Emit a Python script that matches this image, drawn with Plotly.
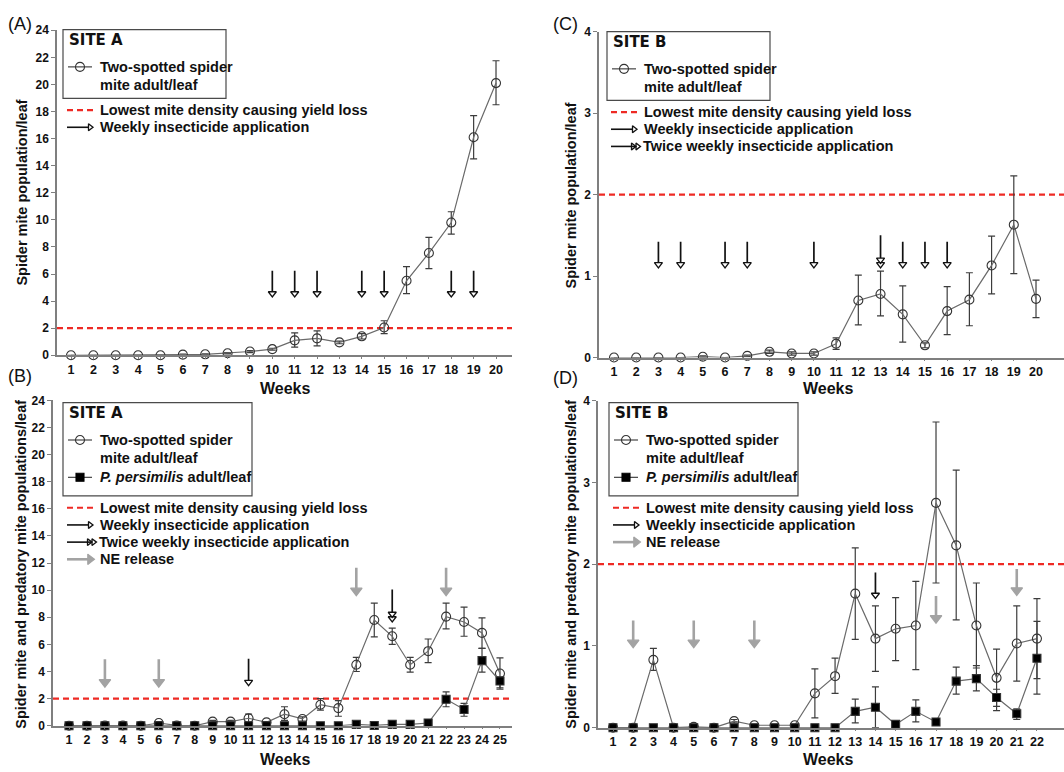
import plotly.graph_objects as go

W, H = 1064, 772

# ---------------- data ----------------
threshold = 2

# (A) Site A, insecticide only
weeks_a = list(range(1, 21))
mite_a = [0, 0, 0, 0, 0, 0.05, 0.07, 0.15, 0.28, 0.45, 1.1, 1.25, 0.95, 1.4, 2.05, 5.5, 7.55, 9.8, 16.1, 20.1]
mite_a_hi = [0, 0, 0, 0, 0, 0.08, 0.1, 0.2, 0.35, 0.52, 1.65, 1.8, 1.05, 1.6, 2.55, 6.55, 8.7, 10.6, 17.7, 21.75]
mite_a_lo = [0, 0, 0, 0, 0, 0.02, 0.04, 0.1, 0.2, 0.38, 0.6, 0.7, 0.85, 1.2, 1.6, 4.55, 6.4, 8.95, 14.5, 18.5]
weekly_a = [10, 11, 12, 14, 15, 18, 19]

# (C) Site B, insecticide only
weeks_c = list(range(1, 21))
mite_c = [0, 0, 0, 0, 0.01, 0, 0.02, 0.07, 0.05, 0.05, 0.17, 0.70, 0.78, 0.53, 0.15, 0.57, 0.71, 1.13, 1.63, 0.72]
mite_c_hi = [0, 0, 0, 0, 0.02, 0, 0.03, 0.09, 0.07, 0.07, 0.24, 1.01, 1.06, 0.88, 0.18, 0.87, 1.04, 1.49, 2.23, 0.95]
mite_c_lo = [0, 0, 0, 0, 0, 0, 0.01, 0.05, 0.03, 0.03, 0.10, 0.40, 0.51, 0.19, 0.12, 0.28, 0.39, 0.78, 1.03, 0.49]
weekly_c = [3, 4, 6, 7, 10, 14, 15, 16]
twice_c = [13]

# (B) Site A, with natural enemy release
weeks_b = list(range(1, 26))
mite_b = [0, 0, 0.02, 0.02, 0, 0.2, 0.02, 0, 0.3, 0.3, 0.55, 0.25, 0.85, 0.5, 1.55, 1.3, 4.5, 7.8, 6.6, 4.5, 5.5, 8.05, 7.65, 6.85, 3.85]
mite_b_hi = [0, 0, 0.05, 0.05, 0, 0.3, 0.05, 0, 0.4, 0.4, 0.85, 0.3, 1.4, 0.65, 2.0, 1.85, 5.05, 9.05, 7.2, 5.05, 6.4, 9.05, 8.75, 7.95, 5.0]
mite_b_lo = [0, 0, 0, 0, 0, 0.1, 0, 0, 0.2, 0.2, 0.25, 0.2, 0.4, 0.35, 1.15, 0.7, 4.0, 6.55, 6.0, 3.95, 4.65, 7.15, 6.6, 5.7, 2.7]
pred_b = [0] * 16 + [0.1, 0.02, 0.1, 0.1, 0.2, 1.95, 1.2, 4.8, 3.3]
pred_b_hi = [0] * 16 + [0.15, 0.05, 0.15, 0.15, 0.25, 2.5, 1.65, 5.7, 3.6]
pred_b_lo = [0] * 16 + [0.05, 0, 0.05, 0.05, 0.15, 1.4, 0.7, 3.95, 2.8]
weekly_b = [11]
twice_b = [19]
ne_b_low = [3, 6]
ne_b_high = [17, 22]

# (D) Site B, with natural enemy release
weeks_d = list(range(1, 23))
mite_d = [0, 0, 0.83, 0, 0.01, 0, 0.08, 0.03, 0.03, 0.03, 0.42, 0.63, 1.64, 1.09, 1.21, 1.25, 2.75, 2.23, 1.25, 0.61, 1.03, 1.09]
mite_d_hi = [0, 0, 0.97, 0, 0.01, 0, 0.1, 0.04, 0.04, 0.04, 0.72, 0.85, 2.2, 1.49, 1.59, 1.79, 3.74, 3.15, 1.77, 0.96, 1.49, 1.58]
mite_d_lo = [0, 0, 0.7, 0, 0.01, 0, 0.06, 0.02, 0.02, 0.02, 0.12, 0.42, 1.08, 0.69, 0.82, 0.71, 1.77, 1.32, 0.73, 0.26, 0.57, 0.6]
pred_d = [0] * 12 + [0.2, 0.25, 0.04, 0.2, 0.07, 0.57, 0.6, 0.37, 0.17, 0.85]
pred_d_hi = [0] * 12 + [0.35, 0.5, 0.05, 0.34, 0.08, 0.74, 0.76, 0.47, 0.23, 1.3]
pred_d_lo = [0] * 12 + [0.06, 0.0, 0.03, 0.07, 0.06, 0.41, 0.45, 0.21, 0.1, 0.41]
weekly_d = [14]
ne_d_a = [2, 5, 8]
ne_d_b = [17]
ne_d_c = [21]

# arrow extents (value at top of shaft, value at arrow tip)
arrow_a = (6.25, 4.3)
arrow_c = (1.42, 1.10)
arrow_c2 = (1.50, 1.10)
arrow_b_ne_low = (4.9, 2.85)
arrow_b_ne_high = (11.65, 9.6)
arrow_b_weekly = (4.95, 2.95)
arrow_b_twice = (10.05, 7.65)
arrow_d_ne_a = (1.31, 0.98)
arrow_d_ne_b = (1.61, 1.28)
arrow_d_ne_c = (1.94, 1.62)
arrow_d_weekly = (1.90, 1.58)

# ---------------- style ----------------
FONT = "Liberation Sans, Arial, sans-serif"
SITE_FONT = "DejaVu Sans, Liberation Sans, sans-serif"
TXT = "#111111"
AXC = "#7f7f7f"
LINEC = "#6a6a6a"
ERRC = "#3c3c3c"
RED = "#ee2a24"
GRAY_ARROW = "#a3a3a3"

panels = {
    "A": dict(xa="x", ya="y", px=(57, 512), py=(23.7, 354.7), xr=(0.374, 20.715), yr=(0, 24), dt=2, n=20),
    "C": dict(xa="x2", ya="y2", px=(599, 1064), py=(25, 357), xr=(0.325, 21.26), yr=(0, 4), dt=1, n=20),
    "B": dict(xa="x3", ya="y3", px=(53, 512), py=(400.7, 732), xr=(0.109, 25.67), yr=(0, 24), dt=2, n=25),
    "D": dict(xa="x4", ya="y4", px=(598, 1064), py=(401, 734), xr=(0.257, 23.34), yr=(0, 4), dt=1, n=22),
}

fig = go.Figure()


def upp(p):
    # data units per pixel on the y axis of panel p
    return (p["yr"][1] - p["yr"][0]) / (p["py"][1] - p["py"][0])


def series(p, x, y, hi, lo, symbol, size, fill, linecolor):
    fig.add_trace(go.Scatter(
        x=x, y=y, xaxis=p["xa"], yaxis=p["ya"], mode="lines+markers",
        line=dict(color=linecolor, width=1.2),
        marker=dict(symbol=symbol, size=size, color=fill, line=dict(color="#333333", width=1.1)),
        error_y=dict(type="data", symmetric=False,
                     array=[h - v for h, v in zip(hi, y)],
                     arrayminus=[v - l for v, l in zip(y, lo)],
                     color=ERRC, thickness=1.2, width=3.5),
        cliponaxis=False, showlegend=False, hoverinfo="x+y"))


def arrows(p, weeks, ext, kind):
    top, tip = ext
    u = upp(p)
    xs, ys = [], []
    if kind == "ne":
        base = tip + 7 * u
        heads = [tip + 5 * u]
        sym, size, col, lw = "triangle-down", 10, GRAY_ARROW, 2.6
    elif kind == "weekly":
        base = tip + 5.5 * u
        heads = [tip + 3.6 * u]
        sym, size, col, lw = "triangle-down-open", 7, "#111111", 1.7
    else:
        base = tip + 10 * u
        heads = [tip + 3.6 * u, tip + 8.2 * u]
        sym, size, col, lw = "triangle-down-open", 7, "#111111", 1.7
    for w in weeks:
        xs += [w, w, None]
        ys += [top, base, None]
    fig.add_trace(go.Scatter(x=xs, y=ys, xaxis=p["xa"], yaxis=p["ya"], mode="lines",
                             line=dict(color=col, width=lw), showlegend=False, hoverinfo="skip",
                             cliponaxis=False))
    hx, hy = [], []
    for w in weeks:
        for h in heads:
            hx.append(w)
            hy.append(h)
    fig.add_trace(go.Scatter(x=hx, y=hy, xaxis=p["xa"], yaxis=p["ya"], mode="markers",
                             marker=dict(symbol=sym, size=size, color=col, line=dict(color=col, width=1.3)),
                             showlegend=False, hoverinfo="skip", cliponaxis=False))


# threshold lines (shapes, behind data)
for key, p in panels.items():
    xd = p["xa"] + " domain"
    fig.add_shape(type="line", xref=xd, yref=p["ya"], x0=0, x1=1, y0=threshold, y1=threshold,
                  line=dict(color=RED, width=2.2, dash="6px,4px"), layer="below")

# panel A
pA = panels["A"]
series(pA, weeks_a, mite_a, mite_a_hi, mite_a_lo, "circle-open", 9, "#333333", LINEC)
arrows(pA, weekly_a, arrow_a, "weekly")

# panel C
pC = panels["C"]
series(pC, weeks_c, mite_c, mite_c_hi, mite_c_lo, "circle-open", 9, "#333333", LINEC)
arrows(pC, weekly_c, arrow_c, "weekly")
arrows(pC, twice_c, arrow_c2, "twice")

# panel B
pB = panels["B"]
series(pB, weeks_b, mite_b, mite_b_hi, mite_b_lo, "circle-open", 9, "#333333", LINEC)
series(pB, weeks_b, pred_b, pred_b_hi, pred_b_lo, "square", 8, "#000000", LINEC)
arrows(pB, ne_b_low, arrow_b_ne_low, "ne")
arrows(pB, ne_b_high, arrow_b_ne_high, "ne")
arrows(pB, weekly_b, arrow_b_weekly, "weekly")
arrows(pB, twice_b, arrow_b_twice, "twice")

# panel D
pD = panels["D"]
series(pD, weeks_d, mite_d, mite_d_hi, mite_d_lo, "circle-open", 9, "#333333", LINEC)
series(pD, weeks_d, pred_d, pred_d_hi, pred_d_lo, "square", 8, "#000000", LINEC)
arrows(pD, ne_d_a, arrow_d_ne_a, "ne")
arrows(pD, ne_d_b, arrow_d_ne_b, "ne")
arrows(pD, ne_d_c, arrow_d_ne_c, "ne")
arrows(pD, weekly_d, arrow_d_weekly, "weekly")

# ---------------- axes ----------------
layout_axes = {}
for key, p in panels.items():
    xn = "xaxis" + p["xa"][1:]
    yn = "yaxis" + p["ya"][1:]
    layout_axes[xn] = dict(
        domain=[p["px"][0] / W, p["px"][1] / W], range=list(p["xr"]), anchor=p["ya"],
        tickmode="array", tickvals=list(range(1, p["n"] + 1)),
        ticktext=[str(i) for i in range(1, p["n"] + 1)], tickangle=0,
        showline=True, linecolor=AXC, linewidth=1.5, ticks="outside", ticklen=2, tickcolor=AXC,
        tickfont=dict(family=FONT, size=12.5, color=TXT, weight="bold"), showgrid=False, zeroline=False,
        fixedrange=True)
    layout_axes[yn] = dict(
        domain=[1 - p["py"][1] / H, 1 - p["py"][0] / H], range=list(p["yr"]), anchor=p["xa"],
        tickmode="linear", tick0=0, dtick=p["dt"],
        showline=True, linecolor=AXC, linewidth=1.5, ticks="outside", ticklen=4, tickcolor=AXC,
        tickfont=dict(family=FONT, size=12, color=TXT, weight="bold"), showgrid=False, zeroline=False,
        fixedrange=True)

# overlay pixel-space axes for legend boxes and labels
layout_axes["xaxis5"] = dict(domain=[0, 1], range=[0, W], visible=False, anchor="y5", fixedrange=True)
layout_axes["yaxis5"] = dict(domain=[0, 1], range=[H, 0], visible=False, anchor="x5", fixedrange=True)

fig.update_layout(**layout_axes)


def txt(x, y, s, size=14, bold=True, anchor="left", angle=0, family=FONT):
    fig.add_annotation(x=x, y=y, xref="x5", yref="y5", text=s, showarrow=False, xanchor=anchor,
                       yanchor="middle", textangle=angle, borderpad=0,
                       font=dict(family=family, size=size, color=TXT, weight="bold" if bold else "normal"))


def sample_line(x0, x1, y, color, width, dash="solid"):
    fig.add_trace(go.Scatter(x=[x0, x1], y=[y, y], xaxis="x5", yaxis="y5", mode="lines",
                             line=dict(color=color, width=width, dash=dash),
                             showlegend=False, hoverinfo="skip", cliponaxis=False))


def sample_marker(x, y, symbol, size, color, lw=1.1):
    fig.add_trace(go.Scatter(x=[x], y=[y], xaxis="x5", yaxis="y5", mode="markers",
                             marker=dict(symbol=symbol, size=size, color=color, line=dict(color=color, width=lw)),
                             showlegend=False, hoverinfo="skip", cliponaxis=False))


def box(x0, y0, x1, y1):
    fig.add_shape(type="rect", xref="x5", yref="y5", x0=x0, x1=x1, y0=y0, y1=y1,
                  line=dict(color="#4a4a4a", width=1.2), fillcolor="rgba(255,255,255,0)")


def legend(ox, oy, site, has_pred, rows):
    # ox: left of box; oy: top of box
    bh = 95 if has_pred else 70
    bw = 189 if has_pred else 163
    box(ox, oy, ox + bw, oy + bh)
    txt(ox + 5, oy + 11, site, size=15, family=SITE_FONT)
    lx0, lx1 = ox + 5, ox + 29
    tx = ox + 36
    sample_line(lx0, lx1, oy + 38, "#333333", 1.1)
    sample_marker((lx0 + lx1) / 2, oy + 38, "circle-open", 9, "#333333")
    txt(tx, oy + 38, "Two-spotted spider", size=14.5)
    txt(tx, oy + 56, "mite adult/leaf", size=14.5)
    if has_pred:
        sample_line(lx0, lx1, oy + 76, "#333333", 1.1)
        sample_marker((lx0 + lx1) / 2, oy + 76, "square", 8, "#000000")
        txt(tx, oy + 76, "<i>P. persimilis</i> adult/leaf", size=14.5)
    y = oy + bh + 12
    for kind, label in rows:
        ax0, ax1 = ox + 4, ox + 30
        if kind == "red":
            sample_line(ax0, ax1, y, RED, 2.2, "6px,4px")
        elif kind == "weekly":
            sample_line(ax0, ax1 - 4, y, "#111111", 1.6)
            sample_marker(ax1 - 3, y, "triangle-right-open", 6, "#111111", 1.3)
        elif kind == "twice":
            sample_line(ax0, ax1 - 2, y, "#111111", 1.6)
            sample_marker(ax1 - 4, y, "triangle-right-open", 6, "#111111", 1.3)
            sample_marker(ax1 + 0.5, y, "triangle-right-open", 6, "#111111", 1.3)
        elif kind == "ne":
            sample_line(ax0, ax1 - 5, y, GRAY_ARROW, 2.6)
            sample_marker(ax1 - 3, y, "triangle-right", 9, GRAY_ARROW)
        txt(tx if kind != "twice" else tx - 1, y, label, size=14.5)
        y += 17.5


legend(63, 23, "SITE A", False,
       [("red", "Lowest mite density causing yield loss"),
        ("weekly", "Weekly insecticide application")])
legend(607, 25, "SITE B", False,
       [("red", "Lowest mite density causing yield loss"),
        ("weekly", "Weekly insecticide application"),
        ("twice", "Twice weekly insecticide application")])
legend(63, 403, "SITE A", True,
       [("red", "Lowest mite density causing yield loss"),
        ("weekly", "Weekly insecticide application"),
        ("twice", "Twice weekly insecticide application"),
        ("ne", "NE release")])
legend(609, 403, "SITE B", True,
       [("red", "Lowest mite density causing yield loss"),
        ("weekly", "Weekly insecticide application"),
        ("ne", "NE release")])

# axis titles and panel letters
txt(22, 189, "Spider mite population/leaf", size=14.5, anchor="center", angle=-90)
txt(571, 192, "Spider mite population/leaf", size=14.5, anchor="center", angle=-90)
txt(21, 568, "Spider mite and predatory mite populations/leaf", size=14.5, anchor="center", angle=-90)
txt(571, 568, "Spider mite and predatory mite populations/leaf", size=14.5, anchor="center", angle=-90)
txt(285, 389, "Weeks", size=16, anchor="center")
txt(828, 389, "Weeks", size=16, anchor="center")
txt(285, 766, "Weeks", size=16, anchor="center")
txt(828, 766, "Weeks", size=16, anchor="center")
txt(20, 17, "(A)", size=18, bold=False, anchor="center")
txt(565, 17, "(C)", size=18, bold=False, anchor="center")
txt(20, 376, "(B)", size=18, bold=False, anchor="center")
txt(565, 378, "(D)", size=18, bold=False, anchor="center")

fig.update_layout(width=W, height=H, autosize=False,
                  margin=dict(l=0, r=0, t=0, b=0),
                  paper_bgcolor="white", plot_bgcolor="rgba(0,0,0,0)",
                  showlegend=False, font=dict(family=FONT, color=TXT))

fig.write_html("out.html", config={"displayModeBar": False},
               post_script="document.body.style.margin='0px';document.body.style.padding='0px';")
